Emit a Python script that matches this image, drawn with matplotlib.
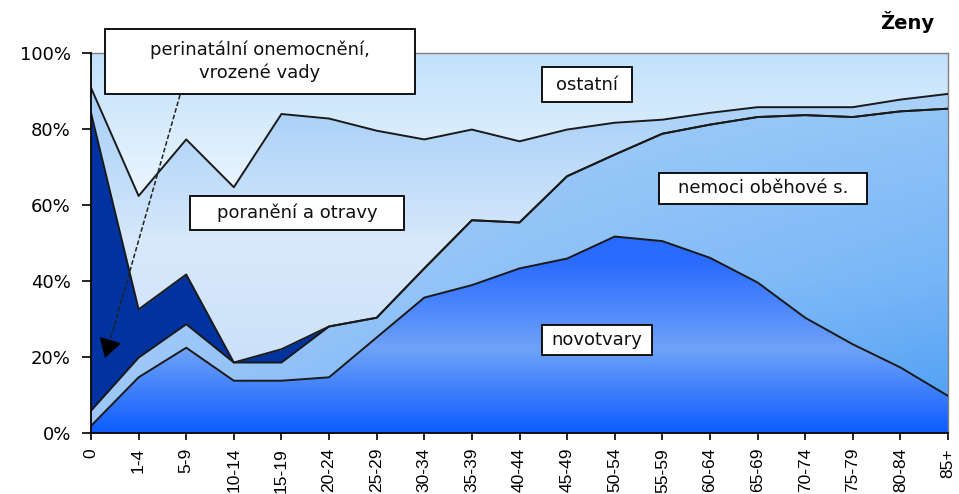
import numpy as np
import matplotlib
matplotlib.use("Agg")
import matplotlib.pyplot as plt
from matplotlib.colors import LinearSegmentedColormap
from matplotlib.patches import Rectangle

# age groups
ages = ["0", "1-4", "5-9", "10-14", "15-19", "20-24", "25-29", "30-34", "35-39",
        "40-44", "45-49", "50-54", "55-59", "60-64", "65-69", "70-74", "75-79",
        "80-84", "85+"]

# share of deaths by cause (%)
novotvary = [1.8, 14.6, 22.4, 13.7, 13.7, 14.6, 25.1, 35.6, 38.9, 43.3, 45.9,
             51.7, 50.5, 46.1, 39.6, 30.3, 23.3, 17.2, 9.7]
obehove = [4.0, 5.2, 6.2, 4.8, 4.8, 13.4, 5.2, 7.7, 17.1, 12.1, 21.7,
           21.6, 28.3, 35.1, 43.6, 53.4, 59.9, 67.5, 75.7]
perinatalni = [78.5, 12.7, 13.1, 0.0, 3.5, 0.0, 0.0, 0.0, 0.0, 0.0, 0.0,
               0.0, 0.0, 0.0, 0.0, 0.0, 0.0, 0.0, 0.0]
poraneni = [6.6, 29.9, 35.6, 46.2, 62.0, 54.8, 49.3, 34.0, 23.9, 21.4, 12.3,
            8.4, 3.7, 3.1, 2.6, 2.1, 2.6, 3.1, 3.9]
ostatni = [9.1, 37.6, 22.7, 35.3, 16.0, 17.2, 20.4, 22.7, 20.1, 23.2, 20.1,
           18.3, 17.5, 15.7, 14.2, 14.2, 14.2, 12.2, 10.7]

x = np.arange(len(ages))
c1 = np.array(novotvary)
c2 = c1 + np.array(obehove)
c3 = c2 + np.array(perinatalni)
c4 = c3 + np.array(poraneni)
c5 = c4 + np.array(ostatni)

W, H = 959, 494
fig = plt.figure(figsize=(W / 100, H / 100), dpi=100)
L, R, T, B = 91, 948, 53.3, 432.7
ax = fig.add_axes([L / W, 1 - B / H, (R - L) / W, (B - T) / H])
ax.set_xlim(0, len(ages) - 1)
ax.set_ylim(0, 100)

N = 256


def column(stops):
    cmap = LinearSegmentedColormap.from_list("g", stops)
    return cmap(np.linspace(0, 1, N))[:, :3]


def gradient_fill(lower, upper, stops, z, stops_left=None):
    poly = ax.fill_between(x, lower, upper, facecolor="none", edgecolor="none")
    right = column(stops)
    left = column(stops_left) if stops_left else right
    t = np.linspace(0, 1, 64)[None, :, None]
    img = left[:, None, :] * (1 - t) + right[:, None, :] * t
    im = ax.imshow(img, extent=[0, len(ages) - 1, 0, 100], origin="lower",
                   aspect="auto", zorder=z, interpolation="bilinear")
    im.set_clip_path(poly.get_paths()[0], transform=ax.transData)


gradient_fill(0, c1, [(0, "#0C5CFF"), (0.22, "#6FA2F8"), (0.45, "#2A6BFF"),
                      (1, "#1E62FF")], 1)
gradient_fill(c1, c2, [(0, "#4A9CF4"), (0.4, "#76B5F7"), (0.85, "#92C5F7"),
                       (1, "#9ACAF8")], 1,
              stops_left=[(0, "#9CC6F8"), (0.4, "#A6CDF9"), (1, "#B0D4F9")])
ax.fill_between(x, c2, c3, color="#0033A0", zorder=1, lw=0)
gradient_fill(c3, c4, [(0, "#C4DCF8"), (0.5, "#D8E9FB"), (0.82, "#AED3F8"),
                       (1, "#9CCAF6")], 1)
gradient_fill(c4, c5, [(0, "#F2F9FF"), (0.6, "#EEF7FE"), (1, "#C2E1FB")], 1)

for c in (c1, c2, c3, c4):
    ax.plot(x, c, color="#1a1a1a", lw=1.4, zorder=3)

ax.set_xticks(x)
ax.set_xticklabels(ages, rotation=90, fontsize=12.5, family="Liberation Sans")
ax.set_yticks(range(0, 101, 20))
ax.set_yticklabels([f"{v}%" for v in range(0, 101, 20)], fontsize=13)
ax.tick_params(axis="x", length=5, width=1.2, pad=6)
ax.tick_params(axis="y", length=6.5, width=1.2, pad=8)
for s in ("left", "bottom"):
    ax.spines[s].set_linewidth(1.3)
    ax.spines[s].set_zorder(5)
for s in ("top", "right"):
    ax.spines[s].set_color("#808080")
    ax.spines[s].set_linewidth(1.0)


def px(xp, yp):
    return (xp - L) / (R - L), (B - yp) / (B - T)


def label_box(x0, y0, x1, y1, text, size=13):
    ax0, ay1 = px(x0, y0)
    ax1, ay0 = px(x1, y1)
    ax.add_patch(Rectangle((ax0, ay0), ax1 - ax0, ay1 - ay0, transform=ax.transAxes,
                           facecolor="white", edgecolor="black", lw=1.3,
                           clip_on=False, zorder=6))
    ax.text((ax0 + ax1) / 2, (ay0 + ay1) / 2, text, transform=ax.transAxes,
            ha="center", va="center", fontsize=size, zorder=7,
            linespacing=1.3, color="#111111")


# arrow from the perinatal label down to its area
xa, ya = px(180, 95)
xb, yb = px(108, 348)
xt, yt = px(105, 358)
ax.plot([xa, xb], [ya, yb], transform=ax.transAxes, color="#222222", lw=1.1,
        ls=(0, (3, 1.5)), clip_on=False, zorder=4)
ax.annotate("", xy=(xt, yt), xytext=(xb + (xb - xt) * 0.5, yb + (yb - yt) * 0.5),
            xycoords="axes fraction", textcoords="axes fraction",
            arrowprops=dict(arrowstyle="-|>,head_length=0.75,head_width=0.45",
                            mutation_scale=16, color="black", lw=1.0,
                            shrinkA=0, shrinkB=0), zorder=4)

label_box(105, 29, 415, 94, "perinatální onemocnění,\nvrozené vady")
label_box(541.7, 67.3, 632.3, 102.3, "ostatní")
label_box(190, 196, 404, 230, "poranění a otravy")
label_box(659, 172.7, 867, 204, "nemoci oběhové s.")
label_box(541.7, 325, 651.7, 355, "novotvary")

fig.text(907 / W, 1 - 22 / H, "Ženy", ha="center", va="center",
         fontsize=14, fontweight="bold")

fig.savefig("out.png", dpi=100)
